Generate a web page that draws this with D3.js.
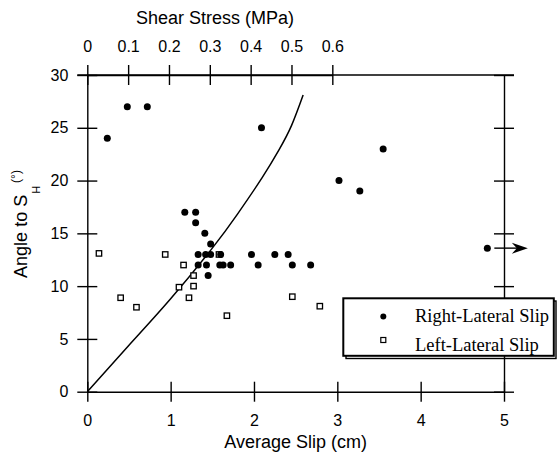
<!DOCTYPE html>
<html>
<head>
<meta charset="utf-8">
<script src="https://cdn.jsdelivr.net/npm/d3@7"></script>
<style>
  body { margin: 0; background: #fff; }
  .ax text { font-family: "Liberation Sans", Arial, sans-serif; font-size: 16px; fill: #000; }
  .ax line, .ax path { stroke: #000; stroke-width: 1.4; }
</style>
</head>
<body>
<svg id="chart" width="558" height="452"></svg>
<script>
// tick values
var slipTicks = [0, 1, 2, 3, 4, 5];
var angleTicks = [0, 5, 10, 15, 20, 25, 30];
var stressTicks = [0, 0.1, 0.2, 0.3, 0.4, 0.5, 0.6];

// right-lateral slip events (filled dots)
var rightSlip  = [0.24, 0.48, 0.72, 2.09, 1.17, 1.30, 1.30, 1.41, 1.48,
                  1.33, 1.42, 1.48, 1.60, 1.97, 2.25, 2.41,
                  1.33, 1.43, 1.59, 1.63, 1.72, 2.05, 2.46, 2.68,
                  1.45, 3.02, 3.27, 3.55];
var rightAngle = [24, 27, 27, 25, 17, 17, 16, 15, 14,
                  13, 13, 13, 13, 13, 13, 13,
                  12, 12, 12, 12, 12, 12, 12, 12,
                  11, 20, 19, 23];

// off-scale right-lateral event (drawn with arrow)
var offSlip = [4.80];
var offAngle = [13.6];

// left-lateral slip events (open squares)
var leftSlip  = [0.14, 0.40, 0.59, 0.935, 1.10, 1.155, 1.22, 1.275, 1.275, 1.58, 1.675, 2.46, 2.79];
var leftAngle = [13.1, 8.9, 8.0, 13.0, 9.9, 12.0, 8.9, 11.0, 10.0, 13.0, 7.2, 9.0, 8.1];

// model curve
var curveSlip  = [0, 0.5, 1.0, 1.5, 1.8, 2.1, 2.3, 2.45, 2.59];
var curveAngle = [0, 4.4, 8.8, 13.6, 16.8, 20.3, 22.9, 25.2, 28.1];

var slipAtStress06 = 2.94; // where 0.6 MPa sits on the slip axis

var svg = d3.select("#chart");

var x = d3.scaleLinear().domain([0, 5]).range([87.3, 504]);
var y = d3.scaleLinear().domain([0, 30]).range([391.7, 75]);
var xTop = d3.scaleLinear().domain([0, 0.6]).range([x(0), x(slipAtStress06)]);

// top frame line (runs past the stress ticks)
svg.append("line")
    .attr("x1", x(0) - 10).attr("x2", x(5) + 10)
    .attr("y1", y(30)).attr("y2", y(30))
    .style("stroke", "#000").style("stroke-width", 1.4);

// bottom axis
var gB = svg.append("g").attr("class", "ax")
    .attr("transform", "translate(0," + y(0) + ")")
    .call(d3.axisBottom(x).tickValues(slipTicks).tickSize(10).tickSizeOuter(0).tickPadding(13)
        .tickFormat(d3.format("d")));
gB.selectAll(".tick line").attr("y1", -10);

// left axis
var gL = svg.append("g").attr("class", "ax")
    .attr("transform", "translate(" + x(0) + ",0)")
    .call(d3.axisLeft(y).tickValues(angleTicks).tickSize(10).tickSizeOuter(0).tickPadding(9));
gL.selectAll(".tick line").attr("x1", 10);

// right axis, no labels
var gR = svg.append("g").attr("class", "ax")
    .attr("transform", "translate(" + x(5) + ",0)")
    .call(d3.axisRight(y).tickValues(angleTicks).tickSize(10).tickSizeOuter(0).tickFormat(""));
gR.selectAll(".tick line").attr("x1", -10);

// top axis, shear stress
var gT = svg.append("g").attr("class", "ax")
    .attr("transform", "translate(0," + y(30) + ")")
    .call(d3.axisTop(xTop).tickValues(stressTicks).tickSize(10).tickSizeOuter(0).tickPadding(13)
        .tickFormat(d3.format("~g")));
gT.selectAll(".tick line").attr("y1", 10);

svg.selectAll(".ax").attr("font-family", null).attr("font-size", null);

// axis titles
svg.append("text")
    .attr("x", 215).attr("y", 23.5)
    .attr("text-anchor", "middle")
    .style("font-family", "Liberation Sans, Arial, sans-serif")
    .style("font-size", "18px")
    .text("Shear Stress (MPa)");

svg.append("text")
    .attr("x", (x(0) + x(5)) / 2).attr("y", 448)
    .attr("text-anchor", "middle")
    .style("font-family", "Liberation Sans, Arial, sans-serif")
    .style("font-size", "18px")
    .text("Average Slip (cm)");

var yt = svg.append("text")
    .attr("transform", "translate(27,224) rotate(-90)")
    .attr("text-anchor", "middle")
    .style("font-family", "Liberation Sans, Arial, sans-serif")
    .style("font-size", "18px");
yt.append("tspan").text("Angle to S");
yt.append("tspan").attr("dy", 13).attr("dx", 1).style("font-size", "11px").text("H");
yt.append("tspan").attr("dy", -20).attr("dx", 3).style("font-size", "12px").text("(°)");

// model curve
var line = d3.line()
    .x(function (d, i) { return x(curveSlip[i]); })
    .y(function (d, i) { return y(curveAngle[i]); })
    .curve(d3.curveNatural);

svg.append("path")
    .datum(curveSlip)
    .attr("d", line)
    .style("fill", "none")
    .style("stroke", "#000")
    .style("stroke-width", 1.5);

// left-lateral squares
svg.selectAll(".left")
    .data(leftSlip)
    .enter().append("rect")
    .attr("class", "left")
    .attr("x", function (d) { return x(d) - 2.7; })
    .attr("y", function (d, i) { return y(leftAngle[i]) - 2.7; })
    .attr("width", 5.4).attr("height", 5.4)
    .style("fill", "#fff")
    .style("stroke", "#000")
    .style("stroke-width", 1.3);

// right-lateral dots
svg.selectAll(".right")
    .data(rightSlip)
    .enter().append("circle")
    .attr("class", "right")
    .attr("cx", function (d) { return x(d); })
    .attr("cy", function (d, i) { return y(rightAngle[i]); })
    .attr("r", 3.5)
    .style("fill", "#000");

// off-scale point with arrow
svg.selectAll(".off")
    .data(offSlip)
    .enter().append("circle")
    .attr("class", "off")
    .attr("cx", function (d) { return x(d); })
    .attr("cy", function (d, i) { return y(offAngle[i]); })
    .attr("r", 3.5)
    .style("fill", "#000");

var ax0 = x(offSlip[0]), ay0 = y(offAngle[0]);
svg.append("line")
    .attr("x1", ax0 + 7).attr("x2", ax0 + 30)
    .attr("y1", ay0).attr("y2", ay0)
    .style("stroke", "#000").style("stroke-width", 1.4);
var tip = ax0 + 40.5;
svg.append("path")
    .attr("d", "M" + tip + "," + ay0 + " L" + (tip - 16) + "," + (ay0 - 5.5) +
               " L" + (tip - 11) + "," + ay0 + " L" + (tip - 16) + "," + (ay0 + 5.5) + " Z")
    .style("fill", "#000");

// legend box with shadow
svg.append("rect")
    .attr("x", 346).attr("y", 301).attr("width", 210).attr("height", 57.5)
    .style("fill", "none").style("stroke", "#000").style("stroke-width", 1.4);
svg.append("rect")
    .attr("x", 343.3).attr("y", 298.3).attr("width", 210.5).attr("height", 57.5)
    .style("fill", "#fff").style("stroke", "#000").style("stroke-width", 2);

svg.append("circle")
    .attr("cx", 383.3).attr("cy", 316.5).attr("r", 3)
    .style("fill", "#000");
svg.append("rect")
    .attr("x", 380.8).attr("y", 337.5).attr("width", 5).attr("height", 5)
    .style("fill", "#fff").style("stroke", "#000").style("stroke-width", 1.2);

svg.append("text")
    .attr("x", 415).attr("y", 321.7)
    .style("font-family", "Liberation Serif, Times New Roman, serif")
    .style("font-size", "18.5px")
    .text("Right-Lateral Slip");
svg.append("text")
    .attr("x", 415).attr("y", 350.7)
    .style("font-family", "Liberation Serif, Times New Roman, serif")
    .style("font-size", "18.5px")
    .text("Left-Lateral Slip");
</script>
</body>
</html>
